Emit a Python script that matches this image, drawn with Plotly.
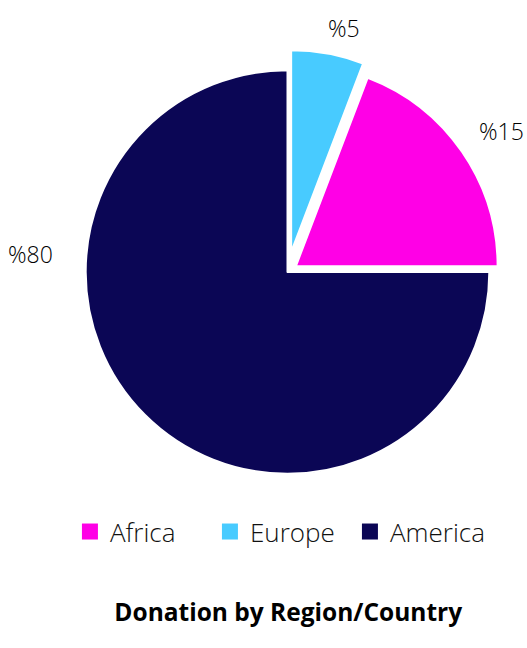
import plotly.graph_objects as go

regions = ["Africa", "Europe", "America"]
shares = [19.2, 5.8, 75.0]
label_text = ["%15", "%5", "%80"]
colors = ["#FF00E6", "#48CBFF", "#0B0655"]
pulls = [0.05, 0.1, 0.0]

# Europe ends at 12 o'clock: start the counterclockwise sweep where Africa begins
start_angle = shares[1] / sum(shares) * 360

fig = go.Figure(go.Pie(
    labels=regions,
    values=shares,
    textinfo="none",
    sort=False,
    direction="counterclockwise",
    rotation=start_angle,
    pull=pulls,
    marker=dict(colors=colors, line=dict(color="white", width=2)),
    hoverinfo="label+percent",
    showlegend=False,
))

# legend entries with larger square swatches
for name, col in zip(regions, colors):
    fig.add_trace(go.Scatter(x=[None], y=[None], mode="markers", name=name,
                             marker=dict(symbol="square", size=16, color=col),
                             hoverinfo="skip"))

# slice labels (placed as in the reference)
label_pos = {"%15": (1.036, 0.8176, "right"), "%5": (0.627, 1.0495, "center"),
             "%80": (-0.077, 0.5405, "center")}
for t in label_text:
    lx, ly, anc = label_pos[t]
    fig.add_annotation(text=t, x=lx, y=ly, xref="paper", yref="paper",
                       xanchor=anc, yanchor="middle", showarrow=False,
                       font=dict(family="Open Sans", size=23, color="#000000", weight=300))

fig.update_xaxes(visible=False)
fig.update_yaxes(visible=False)

fig.update_layout(
    width=527, height=648,
    margin=dict(l=65, r=17, t=50, b=154, autoexpand=False),
    paper_bgcolor="white", plot_bgcolor="white",
    font=dict(family="Open Sans", color="#111111"),
    title=dict(text="<b>Donation by Region/Country</b>", x=0.547, xanchor="center",
               y=0.0546, yanchor="middle", yref="container",
               font=dict(family="Open Sans", size=24.5, color="#000000")),
    legend=dict(orientation="h", x=0.483, xanchor="center", y=0.1796, yanchor="middle",
                yref="container", font=dict(family="Open Sans", size=26, color="#111111", weight=300),
                entrywidth=95, entrywidthmode="pixels", traceorder="normal"),
)

fig.write_html("out.html", config={"displayModeBar": False},
               post_script="document.body.style.margin='0';")
